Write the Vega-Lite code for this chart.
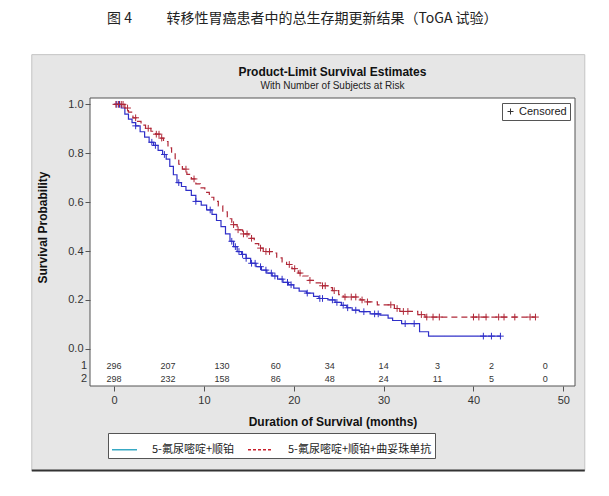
{
  "$schema": "https://vega.github.io/schema/vega-lite/v6.json",
  "width": 485,
  "height": 288,
  "padding": {"left": 30, "top": 12, "right": 26, "bottom": 22},
  "background": "white",
  "config": {
    "view": {"stroke": null},
    "font": "Liberation Sans",
    "axis": {"labelFont": "Liberation Sans", "labelFontSize": 11, "labelColor": "#333", "tickColor": "#555", "tickSize": 5, "domain": false, "grid": false, "titleFont": "Liberation Sans", "titleFontSize": 12, "titleFontWeight": "bold", "titleColor": "#111"},
    "legend": {"zindex": 1}
  },
  "title": {"text": "图 4\u00a0\u00a0\u00a0\u00a0\u00a0\u00a0\u00a0\u00a0\u00a0\u00a0\u00a0转移性胃癌患者中的总生存期更新结果（ToGA 试验）", "font": "Noto Sans CJK SC", "fontSize": 14, "fontWeight": "normal", "color": "#222", "anchor": "middle", "frame": "bounds", "offset": 28, "dx": -6},
  "datasets": {
    "curve": [
      {"g":1,"t":0,"s":1.0},{"g":1,"t":0.8,"s":0.985},{"g":1,"t":1.2,"s":0.96},{"g":1,"t":1.6,"s":0.94},{"g":1,"t":2.0,"s":0.925},{"g":1,"t":2.4,"s":0.912},{"g":1,"t":2.9,"s":0.888},{"g":1,"t":3.4,"s":0.866},{"g":1,"t":3.9,"s":0.845},{"g":1,"t":4.4,"s":0.832},{"g":1,"t":4.9,"s":0.812},{"g":1,"t":5.4,"s":0.795},{"g":1,"t":5.8,"s":0.776},{"g":1,"t":6.2,"s":0.746},{"g":1,"t":6.6,"s":0.712},{"g":1,"t":7.0,"s":0.68},{"g":1,"t":7.5,"s":0.664},{"g":1,"t":8.0,"s":0.648},{"g":1,"t":8.6,"s":0.628},{"g":1,"t":9.1,"s":0.603},{"g":1,"t":9.7,"s":0.588},{"g":1,"t":10.3,"s":0.568},{"g":1,"t":10.9,"s":0.55},{"g":1,"t":11.4,"s":0.525},{"g":1,"t":11.9,"s":0.5},{"g":1,"t":12.4,"s":0.47},{"g":1,"t":12.9,"s":0.44},{"g":1,"t":13.3,"s":0.418},{"g":1,"t":13.7,"s":0.398},{"g":1,"t":14.2,"s":0.386},{"g":1,"t":14.7,"s":0.37},{"g":1,"t":15.2,"s":0.35},{"g":1,"t":15.8,"s":0.336},{"g":1,"t":16.4,"s":0.322},{"g":1,"t":17.0,"s":0.31},{"g":1,"t":17.6,"s":0.298},{"g":1,"t":18.2,"s":0.285},{"g":1,"t":18.8,"s":0.272},{"g":1,"t":19.4,"s":0.262},{"g":1,"t":20.0,"s":0.248},{"g":1,"t":20.6,"s":0.236},{"g":1,"t":21.4,"s":0.228},{"g":1,"t":22.2,"s":0.215},{"g":1,"t":22.8,"s":0.206},{"g":1,"t":23.8,"s":0.2},{"g":1,"t":24.6,"s":0.19},{"g":1,"t":25.3,"s":0.178},{"g":1,"t":25.9,"s":0.168},{"g":1,"t":26.5,"s":0.158},{"g":1,"t":27.3,"s":0.152},{"g":1,"t":28.5,"s":0.143},{"g":1,"t":29.6,"s":0.138},{"g":1,"t":30.5,"s":0.126},{"g":1,"t":31.0,"s":0.116},{"g":1,"t":32.0,"s":0.103},{"g":1,"t":34.0,"s":0.07},{"g":1,"t":35.0,"s":0.052},{"g":1,"t":43.0,"s":0.052},
      {"g":2,"t":0,"s":1.0},{"g":2,"t":1.2,"s":0.985},{"g":2,"t":1.6,"s":0.968},{"g":2,"t":2.1,"s":0.945},{"g":2,"t":2.5,"s":0.93},{"g":2,"t":3.0,"s":0.915},{"g":2,"t":3.5,"s":0.902},{"g":2,"t":4.1,"s":0.89},{"g":2,"t":4.6,"s":0.878},{"g":2,"t":5.1,"s":0.862},{"g":2,"t":5.5,"s":0.848},{"g":2,"t":6.0,"s":0.822},{"g":2,"t":6.4,"s":0.8},{"g":2,"t":6.8,"s":0.778},{"g":2,"t":7.2,"s":0.755},{"g":2,"t":7.6,"s":0.735},{"g":2,"t":8.1,"s":0.714},{"g":2,"t":8.6,"s":0.695},{"g":2,"t":9.1,"s":0.675},{"g":2,"t":9.6,"s":0.658},{"g":2,"t":10.1,"s":0.64},{"g":2,"t":10.6,"s":0.62},{"g":2,"t":11.1,"s":0.603},{"g":2,"t":11.6,"s":0.585},{"g":2,"t":12.1,"s":0.56},{"g":2,"t":12.6,"s":0.532},{"g":2,"t":13.1,"s":0.508},{"g":2,"t":13.7,"s":0.487},{"g":2,"t":14.3,"s":0.47},{"g":2,"t":15.0,"s":0.452},{"g":2,"t":15.6,"s":0.43},{"g":2,"t":16.1,"s":0.412},{"g":2,"t":16.6,"s":0.398},{"g":2,"t":17.6,"s":0.392},{"g":2,"t":18.1,"s":0.372},{"g":2,"t":18.7,"s":0.356},{"g":2,"t":19.2,"s":0.345},{"g":2,"t":19.8,"s":0.328},{"g":2,"t":20.5,"s":0.31},{"g":2,"t":21.0,"s":0.298},{"g":2,"t":21.6,"s":0.28},{"g":2,"t":22.4,"s":0.27},{"g":2,"t":23.0,"s":0.258},{"g":2,"t":23.8,"s":0.25},{"g":2,"t":24.3,"s":0.238},{"g":2,"t":25.0,"s":0.222},{"g":2,"t":25.5,"s":0.212},{"g":2,"t":27.4,"s":0.2},{"g":2,"t":28.0,"s":0.192},{"g":2,"t":29.3,"s":0.18},{"g":2,"t":31.2,"s":0.165},{"g":2,"t":31.8,"s":0.153},{"g":2,"t":33.8,"s":0.14},{"g":2,"t":34.6,"s":0.13},{"g":2,"t":46.9,"s":0.13}
    ],
    "censor": [
      {"g":1,"t":0.3,"s":1.0},{"g":1,"t":0.6,"s":1.0},{"g":1,"t":2.4,"s":0.912},{"g":1,"t":4.2,"s":0.845},{"g":1,"t":4.6,"s":0.832},{"g":1,"t":5.6,"s":0.795},{"g":1,"t":7.2,"s":0.68},{"g":1,"t":9.1,"s":0.603},{"g":1,"t":10.7,"s":0.568},{"g":1,"t":13.1,"s":0.44},{"g":1,"t":13.5,"s":0.418},{"g":1,"t":13.9,"s":0.398},{"g":1,"t":14.3,"s":0.386},{"g":1,"t":14.7,"s":0.37},{"g":1,"t":15.3,"s":0.35},{"g":1,"t":15.7,"s":0.35},{"g":1,"t":16.3,"s":0.336},{"g":1,"t":16.9,"s":0.322},{"g":1,"t":17.5,"s":0.31},{"g":1,"t":17.9,"s":0.298},{"g":1,"t":18.7,"s":0.285},{"g":1,"t":19.3,"s":0.272},{"g":1,"t":19.7,"s":0.262},{"g":1,"t":21.5,"s":0.228},{"g":1,"t":22.9,"s":0.206},{"g":1,"t":23.2,"s":0.206},{"g":1,"t":24.3,"s":0.2},{"g":1,"t":24.8,"s":0.19},{"g":1,"t":25.5,"s":0.178},{"g":1,"t":26.0,"s":0.168},{"g":1,"t":26.9,"s":0.158},{"g":1,"t":27.8,"s":0.152},{"g":1,"t":29.0,"s":0.143},{"g":1,"t":29.4,"s":0.143},{"g":1,"t":32.4,"s":0.103},{"g":1,"t":33.4,"s":0.103},{"g":1,"t":41.1,"s":0.052},{"g":1,"t":42.0,"s":0.052},{"g":1,"t":43.0,"s":0.052},
      {"g":2,"t":0.2,"s":1.0},{"g":2,"t":0.5,"s":1.0},{"g":2,"t":0.8,"s":1.0},{"g":2,"t":1.0,"s":1.0},{"g":2,"t":1.5,"s":0.985},{"g":2,"t":2.4,"s":0.945},{"g":2,"t":3.8,"s":0.902},{"g":2,"t":4.7,"s":0.878},{"g":2,"t":5.0,"s":0.878},{"g":2,"t":5.3,"s":0.862},{"g":2,"t":8.0,"s":0.735},{"g":2,"t":8.9,"s":0.695},{"g":2,"t":13.3,"s":0.508},{"g":2,"t":13.8,"s":0.487},{"g":2,"t":14.4,"s":0.47},{"g":2,"t":14.8,"s":0.47},{"g":2,"t":15.3,"s":0.452},{"g":2,"t":16.3,"s":0.412},{"g":2,"t":16.9,"s":0.398},{"g":2,"t":17.3,"s":0.398},{"g":2,"t":19.5,"s":0.345},{"g":2,"t":20.1,"s":0.328},{"g":2,"t":20.7,"s":0.31},{"g":2,"t":21.8,"s":0.28},{"g":2,"t":23.2,"s":0.258},{"g":2,"t":23.5,"s":0.258},{"g":2,"t":24.5,"s":0.238},{"g":2,"t":25.7,"s":0.212},{"g":2,"t":26.4,"s":0.212},{"g":2,"t":26.9,"s":0.212},{"g":2,"t":27.6,"s":0.2},{"g":2,"t":28.2,"s":0.192},{"g":2,"t":30.8,"s":0.18},{"g":2,"t":31.5,"s":0.165},{"g":2,"t":32.2,"s":0.153},{"g":2,"t":32.7,"s":0.153},{"g":2,"t":34.2,"s":0.14},{"g":2,"t":34.8,"s":0.13},{"g":2,"t":35.5,"s":0.13},{"g":2,"t":36.2,"s":0.13},{"g":2,"t":40.0,"s":0.13},{"g":2,"t":40.6,"s":0.13},{"g":2,"t":41.4,"s":0.13},{"g":2,"t":42.8,"s":0.13},{"g":2,"t":43.4,"s":0.13},{"g":2,"t":44.6,"s":0.13},{"g":2,"t":46.3,"s":0.13},{"g":2,"t":46.9,"s":0.13}
    ],
    "risk": [
      {"g":1,"t":0,"n":296},{"g":1,"t":6,"n":207},{"g":1,"t":12,"n":130},{"g":1,"t":18,"n":60},{"g":1,"t":24,"n":34},{"g":1,"t":30,"n":14},{"g":1,"t":36,"n":3},{"g":1,"t":42,"n":2},{"g":1,"t":48,"n":0},
      {"g":2,"t":0,"n":298},{"g":2,"t":6,"n":232},{"g":2,"t":12,"n":158},{"g":2,"t":18,"n":86},{"g":2,"t":24,"n":48},{"g":2,"t":30,"n":24},{"g":2,"t":36,"n":11},{"g":2,"t":42,"n":5},{"g":2,"t":48,"n":0}
    ]
  },
  "layer": [
    {
      "data": {"values": [{}]},
      "mark": {"type": "rect", "fill": "#e6e6e6", "stroke": "#c4c4c4", "strokeWidth": 1},
      "encoding": {
        "x": {"datum": -9.16, "type": "quantitative", "scale": {"domain": [-2.68, 51.3], "nice": false, "zero": false}},
        "x2": {"datum": 52.39},
        "y": {"datum": 1.2033, "type": "quantitative", "scale": {"domain": [-0.152, 1.026], "nice": false, "zero": false}},
        "y2": {"datum": -0.498}
      }
    },
    {
      "data": {"values": [{}]},
      "mark": {"type": "rule", "color": "#333", "strokeWidth": 2},
      "encoding": {
        "x": {"datum": -9.16, "type": "quantitative"},
        "x2": {"datum": 52.39},
        "y": {"datum": -0.498, "type": "quantitative"}
      }
    },
    {
      "data": {"values": [{}]},
      "mark": {"type": "rect", "fill": "white", "stroke": "#555", "strokeWidth": 1},
      "encoding": {
        "x": {"datum": -2.68, "type": "quantitative"},
        "x2": {"datum": 51.3},
        "y": {"datum": 1.026, "type": "quantitative"},
        "y2": {"datum": -0.152}
      }
    },
    {
      "data": {"values": [{}]},
      "mark": {"type": "text", "fontSize": 12, "fontWeight": "bold", "color": "#111"},
      "encoding": {
        "x": {"datum": 24.3, "type": "quantitative"},
        "y": {"datum": 1.134, "type": "quantitative"},
        "text": {"value": "Product-Limit Survival Estimates"}
      }
    },
    {
      "data": {"values": [{}]},
      "mark": {"type": "text", "fontSize": 10, "color": "#222"},
      "encoding": {
        "x": {"datum": 24.3, "type": "quantitative"},
        "y": {"datum": 1.075, "type": "quantitative"},
        "text": {"value": "With Number of Subjects at Risk"}
      }
    },
    {
      "data": {"name": "curve"},
      "mark": {"type": "line", "interpolate": "step-after", "strokeWidth": 1.2},
      "encoding": {
        "x": {"field": "t", "type": "quantitative", "scale": {"domain": [-2.68, 51.3], "nice": false, "zero": false}, "axis": {"values": [0, 10, 20, 30, 40, 50], "title": "Duration of Survival (months)", "labelPadding": 3, "titlePadding": 11, "zindex": 2}},
        "y": {"field": "s", "type": "quantitative", "scale": {"domain": [-0.152, 1.026], "nice": false, "zero": false}, "axis": {"values": [0, 0.2, 0.4, 0.6, 0.8, 1.0], "format": ".1f", "title": "Survival Probability", "labelPadding": 2, "titlePadding": 18, "titleY": 129, "zindex": 2}},
        "color": {"field": "g", "type": "nominal", "scale": {"domain": [1, 2], "range": ["#2f2fc8", "#b02838"]}, "legend": null},
        "strokeDash": {"field": "g", "type": "nominal", "scale": {"domain": [1, 2], "range": [[1, 0], [6, 4]]}, "legend": null}
      }
    },
    {
      "data": {"name": "censor"},
      "mark": {"type": "point", "filled": false, "strokeWidth": 1, "size": 45, "opacity": 1},
      "encoding": {
        "x": {"field": "t", "type": "quantitative"},
        "y": {"field": "s", "type": "quantitative"},
        "color": {"field": "g", "type": "nominal", "scale": {"domain": [1, 2], "range": ["#2f2fc8", "#b02838"]}, "legend": null},
        "shape": {"datum": "Censored", "type": "nominal", "scale": {"domain": ["Censored"], "range": ["M-1,0L1,0M0,-1L0,1"]}, "legend": {"title": null, "orient": "top-right", "offset": 5, "fillColor": "white", "strokeColor": "#555", "padding": 3, "labelFont": "Liberation Sans", "labelFontSize": 11, "labelColor": "#222", "symbolStrokeColor": "#333", "symbolStrokeWidth": 1, "symbolSize": 36, "labelOffset": 3}}
      }
    },
    {
      "data": {"name": "curve"},
      "transform": [{"filter": "false"}],
      "mark": {"type": "line", "strokeWidth": 1.5},
      "encoding": {
        "x": {"field": "t", "type": "quantitative"},
        "y": {"field": "s", "type": "quantitative"},
        "color": {"field": "g", "type": "nominal", "scale": {"domain": [1, 2], "range": ["#38a9c4", "#c8202c"]}, "legend": {"title": null, "orient": "none", "legendX": 18, "legendY": 335, "direction": "horizontal", "fillColor": "white", "strokeColor": "#555", "padding": 3, "symbolType": "stroke", "symbolSize": 625, "symbolStrokeWidth": 1.3, "labelFont": "Noto Sans CJK SC", "labelFontSize": 11, "labelColor": "#222", "labelOffset": 14, "columnPadding": 10, "labelLimit": 300, "labelExpr": "datum.value == 1 ? '5-氟尿嘧啶+顺铂' : '5-氟尿嘧啶+顺铂+曲妥珠单抗'"}},
        "strokeDash": {"field": "g", "type": "nominal", "scale": {"domain": [1, 2], "range": [[1, 0], [3, 2]]}, "legend": {"title": null, "orient": "none", "legendX": 18, "legendY": 335, "direction": "horizontal", "fillColor": "white", "strokeColor": "#555", "padding": 3, "symbolType": "stroke", "symbolSize": 625, "symbolStrokeWidth": 1.3, "labelFont": "Noto Sans CJK SC", "labelFontSize": 11, "labelColor": "#222", "labelOffset": 14, "columnPadding": 10, "labelLimit": 300, "labelExpr": "datum.value == 1 ? '5-氟尿嘧啶+顺铂' : '5-氟尿嘧啶+顺铂+曲妥珠单抗'"}}
      }
    },
    {
      "data": {"name": "risk"},
      "transform": [{"filter": "datum.g == 1"}],
      "mark": {"type": "text", "fontSize": 9, "color": "#333"},
      "encoding": {
        "x": {"field": "t", "type": "quantitative"},
        "y": {"datum": -0.0716, "type": "quantitative"},
        "text": {"field": "n", "type": "quantitative"}
      }
    },
    {
      "data": {"name": "risk"},
      "transform": [{"filter": "datum.g == 2"}],
      "mark": {"type": "text", "fontSize": 9, "color": "#333"},
      "encoding": {
        "x": {"field": "t", "type": "quantitative"},
        "y": {"datum": -0.122, "type": "quantitative"},
        "text": {"field": "n", "type": "quantitative"}
      }
    },
    {
      "data": {"values": [{}]},
      "mark": {"type": "text", "fontSize": 11, "color": "#333", "align": "right"},
      "encoding": {
        "x": {"datum": -3.0, "type": "quantitative"},
        "y": {"datum": -0.0716, "type": "quantitative"},
        "text": {"value": "1"}
      }
    },
    {
      "data": {"values": [{}]},
      "mark": {"type": "text", "fontSize": 11, "color": "#333", "align": "right"},
      "encoding": {
        "x": {"datum": -3.0, "type": "quantitative"},
        "y": {"datum": -0.122, "type": "quantitative"},
        "text": {"value": "2"}
      }
    }
  ],
  "resolve": {"scale": {"color": "independent", "strokeDash": "independent", "shape": "independent"}}
}
